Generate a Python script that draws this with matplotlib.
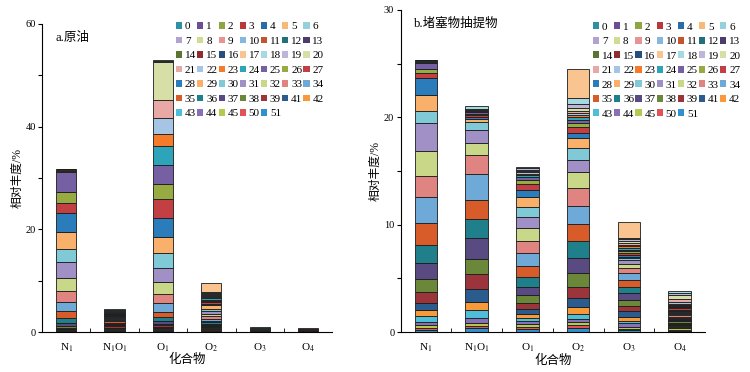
import numpy as np
import matplotlib
matplotlib.use('Agg')
from matplotlib import pyplot as plt
from matplotlib.patches import Patch

plt.rcParams['font.family'] = ['Liberation Serif', 'Noto Sans CJK SC']
plt.rcParams['mathtext.fontset'] = 'stix'

compounds = ['N$_1$', 'N$_1$O$_1$', 'O$_1$', 'O$_2$', 'O$_3$', 'O$_4$']
labels = [str(k) for k in range(40)] + ['41', '42', '43', '44', '45', '50', '51']

colors = ['#2f8fa3', '#6b4f96', '#8ea543', '#b8393b', '#2c6ca4', '#f7b977', '#95d0dc',
          '#b0a3cf', '#cfdc94', '#e79391', '#86b8df', '#c25530', '#236f7a', '#4d3c6b',
          '#5b7432', '#8e2c30', '#25507e', '#f9c490', '#a5dae3', '#c0b5d9', '#d8dfa6',
          '#e8a8a6', '#a6c5e5', '#f57a2a', '#2ea4bb', '#7560a4', '#98ab43', '#c24044',
          '#2a7dba', '#f9b06a', '#80cad8', '#a090c6', '#c9d888', '#e08482', '#6ea9d8',
          '#d85b2a', '#1f7f8b', '#594a82', '#6b8739', '#9c343c', '#2a5c8e', '#f8993a',
          '#4ebfd6', '#8670b8', '#b5c94e', '#e05458', '#2e92d0']

# values in label order: 0-9, 10-19, 20-29, 30-39, then 41,42,43,44,45,50,51
# a. crude oil
oil_n1 = [0, 0, 0, 0, 0, 0, 0, 0, 0, 0,
          0, 0, 0, 0, 0, 0, 0, 0, 0, 0.1,
          0.1, 0.15, 0.1, 0.1, 0.15, 3.84, 2.14, 1.95, 3.7, 3.25,
          2.66, 3.05, 2.47, 2.2, 1.69, 1.43, 0.97, 0.65, 0.25, 0.2,
          0.15, 0.12, 0.1, 0.1, 0.08, 0.05, 0.05]
oil_n1o1 = [0, 0, 0, 0, 0, 0, 0, 0, 0, 0,
            0, 0, 0, 0, 0, 0, 0, 0, 0.15, 0.1,
            0.1, 0.1, 0.12, 0.1, 0.12, 0.12, 0.12, 0.12, 0.15, 0.15,
            0.15, 0.15, 0.15, 0.25, 0.25, 0.25, 0.25, 0.25, 0.25, 0.25,
            0.15, 0.15, 0.12, 0.12, 0.1, 0.1, 0.1]
oil_o1 = [0, 0, 0, 0, 0, 0, 0, 0, 0, 0,
          0, 0, 0, 0, 0, 0, 0, 0, 0.1, 0.2,
          7.47, 3.57, 3.05, 2.34, 3.77, 3.64, 2.99, 3.57, 3.7, 3.18,
          2.99, 2.6, 2.34, 1.88, 1.62, 1.04, 0.78, 0.52, 0.35, 0.3,
          0.25, 0.2, 0.15, 0.12, 0.1, 0.08, 0.07]
oil_o2 = [0, 0, 0, 0, 0, 0, 0, 0, 0, 0,
          0, 0, 0, 0, 0, 0, 0, 1.88, 0.16, 0.16,
          0.16, 0.16, 0.16, 0.3, 0.3, 0.25, 0.25, 0.3, 0.3, 0.65,
          0.45, 0.5, 0.55, 0.45, 0.4, 0.3, 0.25, 0.2, 0.2, 0.15,
          0.15, 0.15, 0.15, 0.15, 0.15, 0.15, 0.2]
oil_o3 = [0, 0, 0, 0, 0, 0, 0, 0, 0, 0,
          0, 0, 0, 0, 0, 0, 0, 0, 0, 0,
          0, 0, 0, 0, 0, 0, 0, 0, 0, 0,
          0.15, 0, 0.15, 0, 0.15, 0, 0.15, 0, 0.15, 0,
          0.15, 0, 0, 0, 0, 0, 0]
oil_o4 = [0, 0, 0, 0, 0, 0, 0, 0, 0, 0,
          0, 0, 0, 0, 0, 0, 0, 0, 0, 0,
          0, 0, 0, 0, 0, 0, 0, 0, 0, 0,
          0, 0, 0, 0.17, 0, 0.17, 0, 0.18, 0, 0.18,
          0, 0, 0, 0, 0, 0, 0]

# b. plug extract
plug_n1 = [0, 0, 0, 0, 0, 0, 0, 0, 0, 0,
           0, 0, 0, 0, 0, 0, 0, 0, 0, 0,
           0.05, 0.05, 0.05, 0.05, 0.05, 0.59, 0.37, 0.5, 1.55, 1.46,
           1.18, 2.55, 2.36, 1.96, 2.45, 2.02, 1.68, 1.52, 1.21, 1.02,
           0.65, 0.56, 0.5, 0.31, 0.25, 0.2, 0.2]
plug_n1o1 = [0, 0, 0, 0, 0, 0, 0, 0, 0, 0,
             0, 0, 0, 0, 0, 0, 0, 0, 0.25, 0.05,
             0.05, 0.05, 0.05, 0.05, 0.05, 0.12, 0.12, 0.19, 0.19, 0.3,
             0.74, 1.24, 1.12, 1.7, 2.42, 1.77, 1.83, 1.92, 1.43, 1.36,
             1.21, 0.78, 0.68, 0.5, 0.25, 0.25, 0.34]
plug_o1 = [0, 0, 0, 0, 0, 0, 0, 0, 0, 0,
           0, 0, 0, 0, 0, 0, 0, 0, 0.1, 0.1,
           0.12, 0.12, 0.15, 0.15, 0.2, 0.25, 0.37, 0.5, 0.74, 0.87,
           0.93, 1.05, 1.21, 1.15, 1.18, 0.99, 0.99, 0.74, 0.68, 0.59,
           0.5, 0.34, 0.28, 0.31, 0.22, 0.19, 0.31]
plug_o2 = [0, 0, 0, 0, 0, 0, 0, 0, 0, 0,
           0, 0, 0, 0, 0, 0, 0, 2.7, 0.53, 0.4,
           0.22, 0.2, 0.2, 0.22, 0.25, 0.3, 0.32, 0.56, 0.53, 0.93,
           1.09, 1.09, 1.49, 1.71, 1.71, 1.55, 1.61, 1.4, 1.24, 1.02,
           0.9, 0.62, 0.47, 0.31, 0.25, 0.25, 0.4]
plug_o3 = [0, 0, 0, 0, 0, 0, 0, 0, 0, 0,
           0, 0, 0, 0, 0, 0, 0, 1.5, 0.16, 0.16,
           0.16, 0.16, 0.16, 0.16, 0.16, 0.16, 0.16, 0.16, 0.16, 0.16,
           0.16, 0.4, 0.34, 0.5, 0.62, 0.62, 0.62, 0.62, 0.56, 0.47,
           0.53, 0.4, 0.22, 0.31, 0.19, 0.15, 0.15]
plug_o4 = [0, 0, 0, 0, 0, 0, 0, 0, 0, 0,
           0, 0, 0, 0, 0, 0, 0, 0, 0.2, 0.25,
           0.35, 0.3, 0.11, 0.11, 0.11, 0.11, 0.11, 0.11, 0.11, 0.11,
           0.11, 0.11, 0.11, 0.11, 0.11, 0.11, 0.11, 0.11, 0.11, 0.11,
           0.11, 0.11, 0.11, 0.11, 0.11, 0.11, 0.11]

oil_bars = [oil_n1, oil_n1o1, oil_o1, oil_o2, oil_o3, oil_o4]
plug_bars = [plug_n1, plug_n1o1, plug_o1, plug_o2, plug_o3, plug_o4]


def draw_panel(ax, bars, width, ymax, ystep, title, leg_anchor, ylab_x):
    x = np.arange(len(compounds))
    bottom = np.zeros(len(compounds))
    # label 0 sits on top, 51 at the bottom
    for i in reversed(range(len(labels))):
        vals = np.array([b[i] for b in bars], dtype=float)
        keep = vals > 0
        ax.bar(x[keep], vals[keep], width, bottom=bottom[keep], color=colors[i],
               edgecolor='#1a1a1a', linewidth=0.6)
        bottom += vals

    ax.set_xlim(-0.5, 5.5)
    ax.set_ylim(0, ymax)
    ax.spines['top'].set_visible(False)
    ax.spines['right'].set_visible(False)
    ax.set_xticks(x)
    ax.set_xticklabels(compounds, fontsize=8)
    ax.set_xticks(np.arange(0.5, 5), minor=True)
    ax.tick_params(axis='x', which='major', length=0, pad=7)
    ax.tick_params(axis='x', which='minor', direction='in', length=3)
    ax.set_yticks(np.arange(0, ymax + 1, ystep))
    ax.set_yticklabels([str(v) if v % (2 * ystep) == 0 else '' for v in range(0, ymax + 1, ystep)],
                       fontsize=7.5)
    ax.tick_params(axis='y', direction='out', length=3, pad=1.5)

    ax.set_xlabel('化合物', fontsize=9)
    ax.xaxis.set_label_coords(0.5, -0.07)
    ax.set_ylabel('相对丰度/%', fontsize=8.5)
    ax.yaxis.set_label_coords(ylab_x, 0.5)
    ax.text(0.045, 0.975, title, transform=ax.transAxes, fontsize=9, va='top')

    handles = [Patch(facecolor=c, edgecolor='none', label=l) for c, l in zip(colors, labels)]
    order = [r * 7 + c for c in range(7) for r in range(7) if r * 7 + c < len(labels)]
    ax.legend([handles[k] for k in order], [labels[k] for k in order], ncol=7,
              loc='upper left', bbox_to_anchor=leg_anchor, frameon=False, fontsize=8,
              handlelength=0.55, handleheight=0.55, handletextpad=0.25, columnspacing=0.1,
              labelspacing=0.47, borderpad=0, borderaxespad=0)


fig = plt.figure(figsize=(7.5, 3.72), dpi=100)
ax1 = fig.add_axes([0.056, 0.1075, 0.387, 0.828])
ax2 = fig.add_axes([0.534, 0.1075, 0.406, 0.866])

draw_panel(ax1, oil_bars, 0.42, 60, 10, 'a.原油', (0.462, 1.006), -0.065)
draw_panel(ax2, plug_bars, 0.44, 30, 5, 'b.堵塞物抽提物', (0.632, 0.961), -0.062)

fig.savefig('out.png', dpi=100)
